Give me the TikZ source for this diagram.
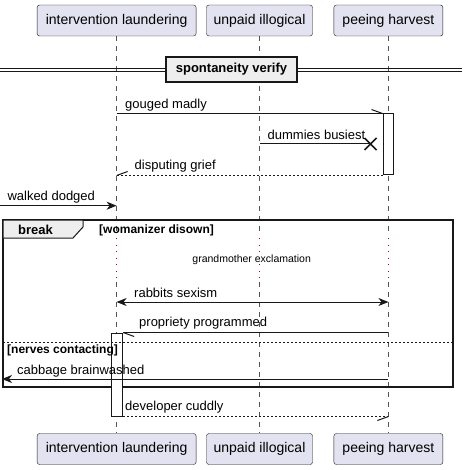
\documentclass[tikz,border=0pt]{standalone}
\usepackage{fontspec}
\setmainfont{Liberation Sans}
\usetikzlibrary{arrows.meta, positioning, calc}
\definecolor{partfill}{HTML}{E2E2F0}
\definecolor{partline}{HTML}{181818}
\definecolor{tabfill}{HTML}{EEEEEE}
\definecolor{delayred}{RGB}{165,0,50}

\begin{document}
\begin{tikzpicture}[x=1pt,y=-1pt,
  part/.style={draw=partline, fill=partfill, rounded corners=2.5pt, minimum height=31pt, inner sep=0pt, font=\fontsize{14}{16}\selectfont},
  lifeline/.style={draw=partline!75, line width=0.5pt, dash pattern=on 5pt off 5pt},
  delay/.style={draw=delayred, line width=1pt, dash pattern=on 1.3pt off 5.2pt},
  msg/.style={draw=partline, line width=1pt},
  reply/.style={msg, dash pattern=on 2pt off 2pt},
  head/.style={-{Stealth[length=10pt,width=8pt,inset=3pt]}},
  lbl/.style={anchor=west, inner sep=0pt, font=\fontsize{13}{15}\selectfont},
  act/.style={draw=partline, fill=white, line width=1pt, inner sep=0pt}]
  \useasboundingbox (0,0) rectangle (468,470);

  % participants
  \node[part, minimum width=159pt] (aTop) at (116.6,20.5) {intervention laundering};
  \node[part, minimum width=106pt] (bTop) at (259.5,20.5) {unpaid illogical};
  \node[part, minimum width=109pt] (cTop) at (388.4,20.5) {peeing harvest};
  \node[part, minimum width=159pt] (aBot) at (116.6,449) {intervention laundering};
  \node[part, minimum width=106pt] (bBot) at (259.5,449) {unpaid illogical};
  \node[part, minimum width=109pt] (cBot) at (388.4,449) {peeing harvest};

  % lifelines, with the delay part dotted
  \foreach \p/\q in {aTop/aBot, bTop/bBot, cTop/cBot} {
    \draw[lifeline] (\p.south) -- (\p |- 0,236);
    \draw[delay] (\p |- 0,238) -- (\p |- 0,280);
    \draw[lifeline] (\p |- 0,282) -- (\q.north);
  }

  % separator
  \draw[partline, line width=1pt] (0,68.3) -- (462,68.3);
  \draw[partline, line width=1pt] (0,71.7) -- (462,71.7);
  \node[draw=partline, fill=tabfill, line width=1.5pt, minimum width=131pt, minimum height=25pt, inner sep=0pt,
    font=\fontsize{13}{15}\selectfont\bfseries] (sep) at (231.5,69.5) {spontaneity verify};

  % activation on peeing harvest
  \node[act, minimum width=10pt, minimum height=61pt] (actC) at (388,144.5) {};

  % gouged madly
  \coordinate (m1a) at (aTop |- actC.north);
  \draw[msg] (m1a) -- (actC.north west);
  \draw[msg] (actC.north west) -- ++(-11,-4);
  \node[lbl] (m1l) at (125,105) {gouged madly};

  % dummies busiest
  \coordinate (m2b) at (bTop |- 0,144);
  \coordinate (m2x) at (370.5,144);
  \draw[msg] (m2b) -- (m2x);
  \draw[partline, line width=1.6pt] ($(m2x)+(-6,-6)$) -- ($(m2x)+(6,6)$) ($(m2x)+(-6,6)$) -- ($(m2x)+(6,-6)$);
  \node[lbl] (m2l) at (267.5,135) {dummies busiest};

  % disputing grief
  \coordinate (m3a) at (aTop |- actC.south);
  \draw[reply] (actC.south west) -- (m3a);
  \draw[msg] (m3a) -- ++(11,-4);
  \node[lbl] (m3l) at (134.5,166) {disputing grief};

  % walked dodged
  \coordinate (m4o) at (0,205.7);
  \coordinate (m4a) at (aTop |- m4o);
  \draw[msg, head] (m4o) -- (m4a);
  \node[lbl] (m4l) at (7.3,196.7) {walked dodged};

  % break group
  \draw[partline, line width=1.5pt] (3,220) rectangle (453,387);
  \draw[partline, fill=tabfill, line width=1pt] (3,220) -- (83,220) -- (83,227) -- (73,238) -- (3,238) -- cycle;
  \node[anchor=west, inner sep=0pt, font=\fontsize{13}{15}\selectfont\bfseries] (brk) at (18,229.5) {break};
  \node[anchor=west, inner sep=0pt, font=\fontsize{12}{14}\selectfont\bfseries] (g1) at (99,230.5) {[womanizer disown]};
  \node[inner sep=0pt, font=\fontsize{10.5}{12}\selectfont] (dly) at (251.7,260) {grandmother exclamation};

  % rabbits sexism
  \coordinate (m5a) at (aTop |- 0,302);
  \coordinate (m5c) at (cTop |- 0,302);
  \draw[msg, {Stealth[length=10pt,width=8pt,inset=3pt]}-{Stealth[length=10pt,width=8pt,inset=3pt]}] (m5a) -- (m5c);
  \node[lbl] (m5l) at (134,293) {rabbits sexism};

  % activation on intervention laundering
  \node[act, minimum width=10.7pt, minimum height=83pt] (actA) at (117.3,374.5) {};

  % propriety programmed
  \coordinate (m6c) at (cTop |- actA.north);
  \draw[msg] (m6c) -- (actA.north east);
  \draw[msg] (actA.north east) -- ++(11,4);
  \node[lbl] (m6l) at (139,323) {propriety programmed};

  % else part
  \draw[partline, line width=1pt, dash pattern=on 2pt off 2pt] (3,342) -- (453,342);
  \node[anchor=west, inner sep=0pt, font=\fontsize{12}{14}\selectfont\bfseries] (g2) at (7,350.7) {[nerves contacting]};

  % cabbage brainwashed
  \coordinate (m7c) at (cTop |- 0,379);
  \coordinate (m7o) at (2,379);
  \draw[msg, head] (m7c) -- (m7o);
  \node[lbl] (m7l) at (17,370.7) {cabbage brainwashed};

  % developer cuddly
  \coordinate (m8c) at (cTop |- actA.south);
  \draw[reply] (actA.south east) -- (m8c);
  \draw[msg] (m8c) -- ++(-11,4);
  \node[lbl] (m8l) at (125,407) {developer cuddly};
\end{tikzpicture}
\end{document}
